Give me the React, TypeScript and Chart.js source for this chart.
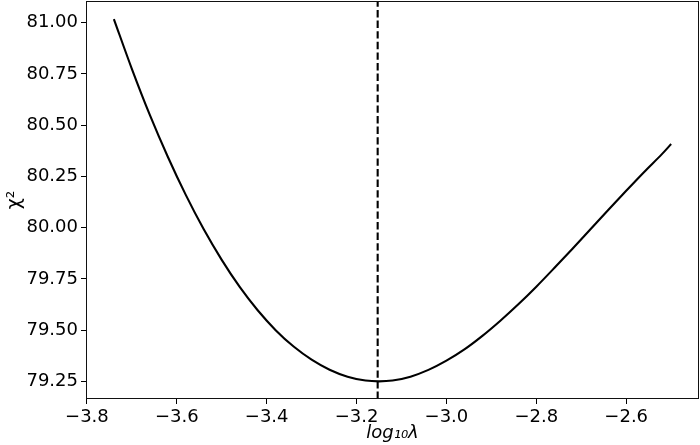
import React, { useEffect, useRef } from "react";
import { Chart, registerables } from "chart.js";

Chart.register(...registerables);

// log10(lambda) values and chi^2 values
const logLambda = [
  -3.74, -3.7, -3.66, -3.62, -3.58, -3.54, -3.5, -3.46, -3.42, -3.38, -3.34, -3.3, -3.26, -3.22, -3.18, -3.15,
  -3.12, -3.08, -3.04, -3.0, -2.96, -2.92, -2.88, -2.84, -2.8, -2.76, -2.72, -2.68, -2.64, -2.6, -2.56, -2.52, -2.5,
];
const chi2 = [
  81.018, 80.775, 80.55, 80.346, 80.16, 79.992, 79.843, 79.711, 79.597, 79.5, 79.42, 79.356, 79.307, 79.273, 79.254, 79.25,
  79.254, 79.273, 79.306, 79.351, 79.406, 79.472, 79.546, 79.626, 79.712, 79.803, 79.896, 79.991, 80.086, 80.18, 80.272,
  80.36, 80.408,
];
const bestLogLambda = -3.153;

const xTickValues = [-3.8, -3.6, -3.4, -3.2, -3.0, -2.8, -2.6];
const yTickValues = [79.25, 79.5, 79.75, 80.0, 80.25, 80.5, 80.75, 81.0];
const xRange = [-3.802, -2.438];
const yRange = [79.164, 81.106];

const FONT = "'DejaVu Sans', sans-serif";

const framePlugin = {
  id: "frame",
  afterDatasetsDraw(chart: any) {
    const { ctx, chartArea } = chart;
    ctx.save();
    ctx.strokeStyle = "#111";
    ctx.lineWidth = 1;
    ctx.strokeRect(
      Math.round(chartArea.left) + 0.5,
      Math.round(chartArea.top) + 0.5,
      Math.round(chartArea.right - chartArea.left) - 1,
      Math.round(chartArea.bottom - chartArea.top) - 1
    );
    ctx.restore();
  },
};

export default function App() {
  const ref = useRef<HTMLCanvasElement | null>(null);

  useEffect(() => {
    document.body.style.margin = "0";
    const canvas = ref.current;
    if (!canvas) return;
    const chart = new Chart(canvas, {
      type: "line",
      data: {
        datasets: [
          {
            data: logLambda.map((x, i) => ({ x, y: chi2[i] })),
            borderColor: "#000",
            borderWidth: 2.1,
            pointRadius: 0,
            cubicInterpolationMode: "monotone",
            fill: false,
          },
          {
            data: [
              { x: bestLogLambda, y: yRange[0] },
              { x: bestLogLambda, y: yRange[1] },
            ],
            borderColor: "#000",
            borderWidth: 2.1,
            borderDash: [7.4, 3.2],
            pointRadius: 0,
            fill: false,
          },
        ],
      },
      options: {
        animation: false,
        responsive: true,
        maintainAspectRatio: false,
        layout: { padding: { top: 1, right: 1, left: 0, bottom: 0 } },
        plugins: { legend: { display: false }, tooltip: { enabled: false } },
        scales: {
          x: {
            type: "linear",
            min: xRange[0],
            max: xRange[1],
            afterBuildTicks: (scale: any) => {
              scale.ticks = xTickValues.map((v) => ({ value: v }));
            },
            afterFit: (scale: any) => {
              scale.height = 46;
              scale.paddingLeft = 0;
              scale.paddingRight = 0;
            },
            grid: { drawOnChartArea: false, drawTicks: true, tickLength: 5, color: "#000" },
            border: { display: false },
            ticks: {
              color: "#000",
              padding: 3,
              maxRotation: 0,
              font: { family: FONT, size: 18 },
              callback: (v: any) => {
                const s = Number(v).toFixed(1);
                return s.replace("-", "\u2212");
              },
            },
            title: {
              display: true,
              text: "log\u2081\u2080\u03bb",
              color: "#000",
              font: { family: FONT, size: 18, style: "italic" },
              padding: { top: 0, bottom: 1 },
            },
          },
          y: {
            type: "linear",
            min: yRange[0],
            max: yRange[1],
            afterBuildTicks: (scale: any) => {
              scale.ticks = yTickValues.map((v) => ({ value: v }));
            },
            afterFit: (scale: any) => {
              scale.width = 86;
              scale.paddingTop = 0;
              scale.paddingBottom = 0;
            },
            grid: { drawOnChartArea: false, drawTicks: true, tickLength: 5, color: "#000" },
            border: { display: false },
            ticks: {
              color: "#000",
              padding: 3,
              font: { family: FONT, size: 18 },
              callback: (v: any) => Number(v).toFixed(2),
            },
            title: {
              display: true,
              text: "\u03c7\u00b2",
              color: "#000",
              font: { family: FONT, size: 19 },
              padding: { top: 4, bottom: 0 },
            },
          },
        },
      },
      plugins: [framePlugin],
    });
    return () => chart.destroy();
  }, []);

  return (
    <div style={{ position: "absolute", left: 0, top: 0, width: 700, height: 445 }}>
      <canvas ref={ref} />
    </div>
  );
}
